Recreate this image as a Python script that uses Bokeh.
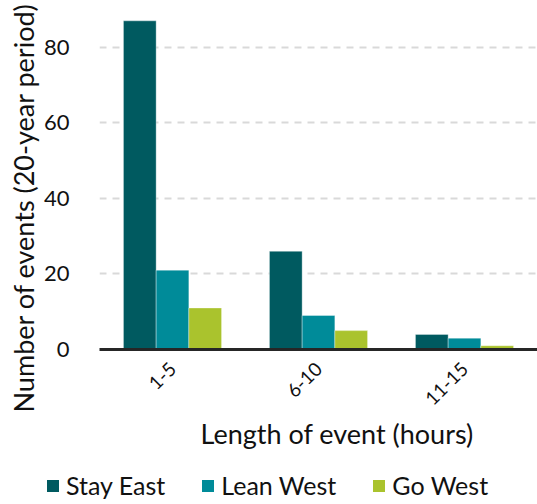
from bokeh.plotting import figure
from bokeh.models import ColumnDataSource, FactorRange, Legend, LegendItem, Title, FixedTicker, Range1d
from bokeh.layouts import column
from bokeh.transform import dodge
from bokeh.embed import file_html
from bokeh.resources import INLINE
import math

categories = ["1-5", "6-10", "11-15"]
series_names = ["Stay East", "Lean West", "Go West"]
stay_east = [87, 26, 4]
lean_west = [21, 9, 3]
go_west = [11, 5, 1]
y_ticks = [0, 20, 40, 60, 80]

colors = ["#005a60", "#008b99", "#aac32d"]
FONT = "Lato"

source = ColumnDataSource(dict(cat=categories, se=stay_east, lw=lean_west, gw=go_west))

p = figure(x_range=FactorRange(*categories), y_range=(0, 90),
           width=537, height=470,
           min_border_left=99, min_border_right=0, min_border_top=9, min_border_bottom=121,
           output_backend="svg", toolbar_location=None)

bw = 0.224
for col, off, c in zip(["se", "lw", "gw"], [-bw, 0, bw], colors):
    p.vbar(x=dodge("cat", off, range=p.x_range), top=col, width=bw, source=source,
           fill_color=c, line_color="white", line_alpha=0.35, line_width=1)

p.outline_line_color = None
p.xgrid.grid_line_color = None
p.ygrid.grid_line_color = "#d9d9d9"
p.ygrid.grid_line_width = 2
p.ygrid.grid_line_dash = "7 6"
p.yaxis.ticker = FixedTicker(ticks=y_ticks)

p.yaxis.axis_line_color = None
p.yaxis.major_tick_line_color = None
p.yaxis.minor_tick_line_color = None
p.yaxis.major_label_text_font = FONT
p.yaxis.major_label_text_font_size = "22px"
p.yaxis.major_label_text_color = "#111111"
p.yaxis.major_label_standoff = 24

p.xaxis.axis_line_color = "#262626"
p.xaxis.axis_line_width = 3
p.xaxis.major_tick_line_color = None
p.xaxis.minor_tick_line_color = None
p.xaxis.major_label_orientation = math.pi / 4
p.xaxis.major_label_text_font = FONT
p.xaxis.major_label_text_font_size = "19px"
p.xaxis.major_label_text_color = "#111111"
p.xaxis.major_label_standoff = 10

xtitle = Title(text="Length of event (hours)", align="left",
               text_font=FONT, text_font_size="27px", text_font_style="normal",
               text_color="#111111", offset=101, standoff=0)
p.add_layout(xtitle, "below")

ytitle = Title(text="Number of events (20-year period)", align="left",
               text_font=FONT, text_font_size="27px", text_font_style="normal",
               text_color="#111111", offset=-63, standoff=2)
p.add_layout(ytitle, "left")

# legend strip
lf = figure(width=537, height=30, x_range=Range1d(0, 1), y_range=Range1d(0, 1),
            x_axis_location=None, y_axis_location=None,
            min_border_left=0, min_border_right=0, min_border_top=0, min_border_bottom=0,
            output_backend="svg", toolbar_location=None)
lf.grid.visible = False
lf.outline_line_color = None

if "frame_align" in lf.properties():
    lf.frame_align = False
    p.frame_align = False
    legend_loc = (45, 0)
else:
    legend_loc = (-57, 0)

items = []
for n, c in zip(series_names, colors):
    r = lf.vbar(x=[-10], top=[-10], width=0.1, fill_color=c, line_color=None)
    items.append(LegendItem(label=n, renderers=[r]))
legend = Legend(items=items, orientation="horizontal", location=legend_loc,
                label_text_font=FONT, label_text_font_size="25px", label_text_color="#111111",
                glyph_width=15, glyph_height=15, spacing=35, label_standoff=6,
                border_line_color=None, background_fill_color=None, margin=0, padding=0)
lf.add_layout(legend)

layout = column(p, lf, spacing=0)
open("out.html", "w").write(file_html(layout, INLINE))
